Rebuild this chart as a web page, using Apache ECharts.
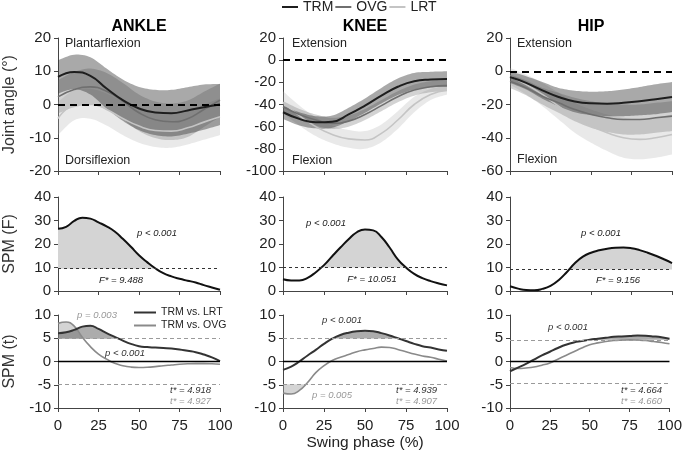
<!DOCTYPE html>
<html>
<head>
<meta charset="utf-8">
<script src="https://cdn.jsdelivr.net/npm/echarts@6/dist/echarts.min.js"></script>
<style>
  html, body { margin: 0; padding: 0; background: #fff; }
  #main { width: 685px; height: 457px; }
</style>
</head>
<body>
<div id="main"></div>
<script>
// swing phase samples
const phase10 = [0, 10, 20, 30, 40, 50, 60, 70, 80, 90, 100];
const phase5 = [0, 5, 10, 15, 20, 25, 30, 35, 40, 45, 50, 55, 60, 65, 70, 75, 80, 85, 90, 95, 100];

// joint angles, mean and SD (deg)
const ankleTRM = [8.3, 9.8, 8.6, 4.8, 1.3, -1.2, -2.4, -2.6, -1.8, -0.8, 0];
const ankleTRMsd = [5, 5.2, 5.6, 6, 6.2, 6.5, 6.8, 7, 7, 6.8, 6.2];
const ankleOVG = [2.3, 4.5, 5.3, 4, 1, -2.5, -4.6, -5.2, -4.3, -1.5, 1.3];
const ankleOVGsd = [5, 5.3, 5.5, 5.5, 5.5, 5.5, 5.5, 5.5, 5.5, 5.3, 5];
const ankleLRT = [-4.2, -0.2, 0.2, -1.5, -4.2, -6.5, -7.8, -8, -7, -5.3, -3.7];
const ankleLRTsd = [5, 4.5, 4.5, 4.8, 5, 5, 5, 5, 5, 5.3, 5.5];

const kneeTRM = [-47, -53, -56, -55.5, -49, -41, -32, -24, -19, -17.5, -17];
const kneeTRMsd = [6, 6, 5.5, 5.5, 6, 6.5, 7, 7.5, 7.5, 7, 7];
const kneeOVG = [-42, -49, -54, -57, -55, -49, -41, -33, -27, -24, -23];
const kneeOVGsd = [5, 5, 5, 5, 5, 5, 5, 5, 5, 5, 5];
const kneeLRT = [-38, -50, -60, -67, -71, -72, -66, -54, -40, -31, -27];
const kneeLRTsd = [10, 9, 8.5, 8, 8, 8, 8, 8, 7, 5, 4];

const hipTRM = [-3.5, -7, -11.5, -15.5, -18.2, -19.3, -19.5, -19, -18, -16.8, -15.5];
const hipTRMsd = [3.5, 4, 5, 5.5, 6.5, 7, 7.5, 8, 8.5, 9, 9];
const hipOVG = [-6, -10, -15, -19, -23, -26, -28, -29, -29, -28, -27];
const hipOVGsd = [4, 4.5, 5, 6, 7, 8, 8.5, 9, 9, 9, 9];
const hipLRT = [-3, -8, -14, -21, -28, -33, -37, -40, -41, -40, -38];
const hipLRTsd = [5, 6, 7, 8, 9, 10, 11, 12, 12, 12, 12];

// SPM{F}
const ankleF = [26.5, 27.3, 29.8, 31.2, 30.8, 29.2, 27.5, 25.3, 22.2, 18.8, 15.2, 12.3, 9.7, 7.6, 6.2, 5.2, 4.4, 3.6, 2.5, 1.5, 0.5];
const kneeF = [5.0, 4.5, 4.5, 5.6, 8, 11, 14.8, 18.5, 22, 25, 26.2, 25.8, 23, 18.5, 13.5, 10, 7.3, 5.5, 4.2, 3.2, 2.4];
const hipF = [2, 1, 0.4, 0.3, 0.9, 2.2, 4.6, 8, 11.8, 14.6, 16.3, 17.3, 18, 18.4, 18.5, 18.2, 17.4, 16.3, 15, 13.5, 11.9];
const fCrit = [9.488, 10.051, 9.156];

// SPM{t} post hoc
const ankleTL = [6.1, 6.3, 6.8, 7.5, 7.7, 7.0, 6.1, 5.3, 4.5, 3.8, 3.3, 3.1, 3.0, 2.9, 2.8, 2.6, 2.3, 2.0, 1.5, 0.9, 0.1];
const ankleTO = [8.2, 8.5, 7.6, 5.2, 3.2, 1.6, 0.5, -0.4, -0.9, -1.2, -1.3, -1.25, -1.1, -0.9, -0.75, -0.6, -0.5, -0.45, -0.45, -0.5, -0.6];
const kneeTL = [-1.8, -1.1, 0, 1.3, 2.5, 3.8, 4.9, 5.7, 6.2, 6.5, 6.6, 6.5, 6.1, 5.6, 5.0, 4.4, 3.8, 3.3, 3.0, 2.6, 2.3];
const kneeTO = [-6.8, -7.0, -6.2, -4.5, -2.4, -0.9, 0.2, 0.9, 1.5, 2.1, 2.5, 2.8, 3.1, 3.0, 2.6, 2.1, 1.6, 1.2, 0.9, 0.5, 0.1];
const hipTL = [-2.1, -1.3, -0.5, 0.4, 1.3, 2.1, 2.9, 3.6, 4.1, 4.4, 4.7, 4.9, 5.1, 5.3, 5.4, 5.5, 5.6, 5.55, 5.4, 5.2, 4.9];
const hipTO = [-1.3, -1.5, -1.4, -1.2, -0.8, -0.3, 0.5, 1.3, 2.1, 2.9, 3.6, 4.0, 4.3, 4.5, 4.6, 4.65, 4.6, 4.5, 4.3, 4.1, 3.8];
const tCritTL = [4.918, 4.939, 4.664];
const tCritTO = [4.927, 4.907, 4.660];

const FONT = '"Liberation Sans", Arial, sans-serif';
const axisColor = '#444';
const chart = echarts.init(document.getElementById('main'));

// layout
const cols = [{ left: 58, width: 162 }, { left: 283, width: 164 }, { left: 510, width: 162 }];
const rows = [{ top: 38, height: 133 }, { top: 197, height: 94 }, { top: 315, height: 93 }];
const yRanges = [
  [[-20, 20, 10], [-100, 20, 20], [-60, 20, 20]],
  [[0, 40, 10], [0, 40, 10], [0, 40, 10]],
  [[-10, 10, 5], [-10, 10, 5], [-10, 10, 5]]
];
const yNames = ['Joint angle (°)', 'SPM (F)', 'SPM (t)'];

const grids = [], xAxes = [], yAxes = [];
for (let r = 0; r < 3; r++) {
  for (let c = 0; c < 3; c++) {
    const gi = r * 3 + c;
    const [mn, mx, iv] = yRanges[r][c];
    grids.push({ left: cols[c].left, top: rows[r].top, width: cols[c].width, height: rows[r].height });
    xAxes.push({
      type: 'value', gridIndex: gi, min: 0, max: 100, interval: 25,
      axisLine: { show: true, onZero: false, lineStyle: { color: axisColor, width: 1 } },
      axisTick: { show: true, length: 4, lineStyle: { color: axisColor } },
      axisLabel: { show: r === 2, fontSize: 15, fontFamily: FONT, color: '#222', margin: 10 },
      splitLine: { show: false },
      name: gi === 7 ? 'Swing phase (%)' : '',
      nameLocation: 'middle', nameGap: 27, nameMoveOverlap: false,
      nameTextStyle: { fontSize: 15.5, fontFamily: FONT, color: '#222' }
    });
    yAxes.push({
      type: 'value', gridIndex: gi, min: mn, max: mx, interval: iv,
      axisLine: { show: true, onZero: false, lineStyle: { color: axisColor, width: 1 } },
      axisTick: { show: true, length: 4, lineStyle: { color: axisColor } },
      axisLabel: { fontSize: 15, fontFamily: FONT, color: '#222', margin: 7 },
      splitLine: { show: false },
      name: c === 0 ? yNames[r] : '',
      nameLocation: 'middle', nameGap: 40, nameRotate: 90,
      nameTextStyle: { fontSize: 16, fontFamily: FONT, color: '#333' }
    });
  }
}

const pairs = (xs, ys) => xs.map((x, i) => [x, ys[i]]);

// catmull-rom through pixel points, for the shaded outlines
function spline(pts, steps) {
  const out = [];
  const n = pts.length;
  for (let i = 0; i < n - 1; i++) {
    const p0 = pts[Math.max(i - 1, 0)], p1 = pts[i], p2 = pts[i + 1], p3 = pts[Math.min(i + 2, n - 1)];
    for (let s = 0; s < steps; s++) {
      const t = s / steps, t2 = t * t, t3 = t2 * t;
      out.push([0, 1].map(k => 0.5 * (2 * p1[k] + (-p0[k] + p2[k]) * t +
        (2 * p0[k] - 5 * p1[k] + 4 * p2[k] - p3[k]) * t2 +
        (-p0[k] + 3 * p1[k] - 3 * p2[k] + p3[k]) * t3)));
    }
  }
  out.push(pts[n - 1]);
  return out;
}

// filled region between two curves, positioned with the axis scales
function fillBetween(gi, xs, upper, lower, color, z) {
  return {
    type: 'custom', xAxisIndex: gi, yAxisIndex: gi, silent: true, z: z || 1, clip: true,
    data: [[xs[0], lower[0]]],
    renderItem: (params, api) => {
      const up = spline(xs.map((x, i) => api.coord([x, upper[i]])), 8);
      const lo = spline(xs.map((x, i) => api.coord([x, lower[i]])), 8).reverse();
      return { type: 'polygon', shape: { points: up.concat(lo) }, style: { fill: color } };
    }
  };
}

function band(gi, mean, sd, color) {
  return fillBetween(gi, phase10, mean.map((m, i) => m + sd[i]), mean.map((m, i) => m - sd[i]), color, 1);
}

function line(gi, name, xs, ys, color, width, extra) {
  return Object.assign({
    type: 'line', name: name, xAxisIndex: gi, yAxisIndex: gi, data: pairs(xs, ys),
    smooth: true, symbol: 'none', silent: true, color: color,
    lineStyle: { color: color, width: width }, z: 3
  }, extra || {});
}

function exceedFill(gi, ys, crit, color) {
  const out = [];
  if (ys.some(v => v > crit)) {
    out.push(fillBetween(gi, phase5, ys.map(v => Math.max(v, crit)), ys.map(() => crit), color, 2));
  }
  if (ys.some(v => v < -crit)) {
    out.push(fillBetween(gi, phase5, ys.map(() => -crit), ys.map(v => Math.min(v, -crit)), color, 2));
  }
  return out;
}

const bandColor = { TRM: 'rgba(50,50,50,0.42)', OVG: 'rgba(120,120,120,0.33)', LRT: 'rgba(175,175,175,0.28)' };
const lineColor = { TRM: '#1e1e1e', OVG: '#6f6f6f', LRT: '#c4c4c4' };

const angleSets = [
  { TRM: [ankleTRM, ankleTRMsd], OVG: [ankleOVG, ankleOVGsd], LRT: [ankleLRT, ankleLRTsd] },
  { TRM: [kneeTRM, kneeTRMsd], OVG: [kneeOVG, kneeOVGsd], LRT: [kneeLRT, kneeLRTsd] },
  { TRM: [hipTRM, hipTRMsd], OVG: [hipOVG, hipOVGsd], LRT: [hipLRT, hipLRTsd] }
];
const fSets = [ankleF, kneeF, hipF];
const tSets = [[ankleTL, ankleTO], [kneeTL, kneeTO], [hipTL, hipTO]];

const series = [];
const mlBase = { symbol: 'none', silent: true, label: { show: false } };

angleSets.forEach((set, c) => {
  ['LRT', 'OVG', 'TRM'].forEach(g => series.push(band(c, set[g][0], set[g][1], bandColor[g])));
  ['LRT', 'OVG', 'TRM'].forEach(g => {
    const extra = g === 'TRM' ? {
      markLine: Object.assign({}, mlBase, { lineStyle: { color: '#000', type: [7, 5], width: 1.8 }, data: [{ yAxis: 0 }] })
    } : {};
    series.push(line(c, g, phase10, set[g][0], lineColor[g], g === 'TRM' ? 2 : 1.6, extra));
  });
});

fSets.forEach((ys, c) => {
  const gi = 3 + c;
  series.push(...exceedFill(gi, ys, fCrit[c], '#d4d4d4'));
  series.push(line(gi, 'F', phase5, ys, '#111', 2, {
    markLine: Object.assign({}, mlBase, { lineStyle: { color: '#333', type: [3, 3], width: 1 }, data: [{ yAxis: fCrit[c] }] })
  }));
});

tSets.forEach(([tl, to], c) => {
  const gi = 6 + c;
  series.push(...exceedFill(gi, to, tCritTO[c], 'rgba(160,160,160,0.45)'));
  series.push(...exceedFill(gi, tl, tCritTL[c], 'rgba(90,90,90,0.5)'));
  series.push(line(gi, 'TRM vs. OVG', phase5, to, '#8a8a8a', 1.6, {
    markLine: Object.assign({}, mlBase, { lineStyle: { color: '#000', type: 'solid', width: 1.3 }, data: [{ yAxis: 0 }] })
  }));
  series.push(line(gi, 'TRM vs. LRT', phase5, tl, '#333', 2, {
    markLine: Object.assign({}, mlBase, { lineStyle: { color: '#9a9a9a', type: [4, 3], width: 1 }, data: [{ yAxis: tCritTL[c] }, { yAxis: -tCritTL[c] }] })
  }));
});

// text annotations
const it = s => 'italic ' + s + 'px ' + FONT;
const notes = [
  ['ANKLE', 139, 27, 'bold 16px ' + FONT, '#000', 'center'],
  ['KNEE', 365, 27, 'bold 16px ' + FONT, '#000', 'center'],
  ['HIP', 591, 27, 'bold 16px ' + FONT, '#000', 'center'],
  ['Plantarflexion', 65, 44, '12.5px ' + FONT, '#222', 'left'],
  ['Dorsiflexion', 65, 161, '12.5px ' + FONT, '#222', 'left'],
  ['Extension', 292, 44, '12.5px ' + FONT, '#222', 'left'],
  ['Flexion', 292, 161, '12.5px ' + FONT, '#222', 'left'],
  ['Extension', 517, 44, '12.5px ' + FONT, '#222', 'left'],
  ['Flexion', 517, 160, '12.5px ' + FONT, '#222', 'left'],
  ['p < 0.001', 157, 233, it(9.5), '#222', 'center'],
  ['F* = 9.488', 121, 280, it(9.5), '#222', 'center'],
  ['p < 0.001', 326, 223, it(9.5), '#222', 'center'],
  ['F* = 10.051', 372, 279, it(9.5), '#222', 'center'],
  ['p < 0.001', 601, 233, it(9.5), '#222', 'center'],
  ['F* = 9.156', 618, 280, it(9.5), '#222', 'center'],
  ['p = 0.003', 97, 315, it(9.5), '#999', 'center'],
  ['p < 0.001', 125, 353, it(9.5), '#333', 'center'],
  ['t* = 4.918', 211, 390, it(9.5), '#333', 'right'],
  ['t* = 4.927', 211, 401, it(9.5), '#999', 'right'],
  ['p < 0.001', 342, 320, it(9.5), '#333', 'center'],
  ['p = 0.005', 332, 395, it(9.5), '#999', 'center'],
  ['t* = 4.939', 437, 390, it(9.5), '#333', 'right'],
  ['t* = 4.907', 437, 401, it(9.5), '#999', 'right'],
  ['p < 0.001', 568, 327, it(9.5), '#333', 'center'],
  ['t* = 4.664', 662, 390, it(9.5), '#333', 'right'],
  ['t* = 4.660', 662, 401, it(9.5), '#999', 'right']
];

chart.setOption({
  animation: false,
  backgroundColor: '#fff',
  grid: grids,
  xAxis: xAxes,
  yAxis: yAxes,
  legend: [
    {
      data: ['TRM', 'OVG', 'LRT'], left: 282, top: 0, padding: 0,
      icon: 'rect', itemWidth: 16, itemHeight: 2, itemGap: 2, selectedMode: false,
      textStyle: { fontSize: 14, fontFamily: FONT, color: '#222' }
    },
    {
      data: ['TRM vs. LRT', 'TRM vs. OVG'], left: 134, top: 307, padding: 0, orient: 'vertical',
      icon: 'rect', itemWidth: 22, itemHeight: 2, itemGap: 2, selectedMode: false,
      textStyle: { fontSize: 10.5, fontFamily: FONT, color: '#222' }
    }
  ],
  graphic: notes.map(([text, x, y, font, fill, align]) => ({
    type: 'text', x: x, y: y, silent: true,
    style: { text: text, font: font, fill: fill, align: align, verticalAlign: 'middle' }
  })),
  series: series
});
</script>
</body>
</html>
